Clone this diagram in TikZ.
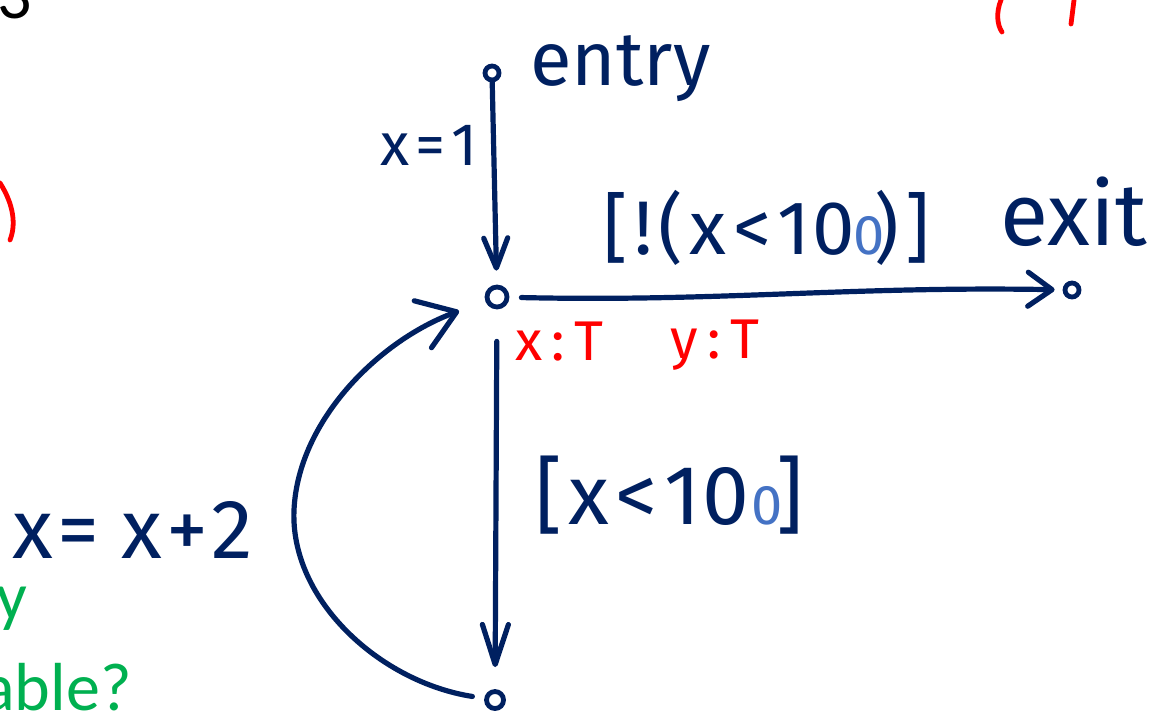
\documentclass[tikz,border=0pt]{standalone}
\usepackage{fontspec}
\setmainfont{Fira Sans}
\newfontfamily\printfont{Carlito}
\usetikzlibrary{arrows.meta}
\definecolor{ink}{RGB}{0,32,96}
\definecolor{inkblue}{RGB}{68,114,196}
\definecolor{inkred}{RGB}{255,0,0}
\definecolor{inkgreen}{RGB}{0,176,80}
\newcommand{\fsz}[1]{\fontsize{#1}{#1}\selectfont}
\newcommand{\gp}{\kern3.2pt}
\begin{document}
\begin{tikzpicture}[x=0.5pt,y=-0.5pt,
  dot/.style={circle,draw=ink,line width=2.4pt,minimum size=#1,inner sep=0pt},
  pen/.style={draw=ink,line width=2.6pt,line cap=round,line join=round},
  redpen/.style={draw=inkred,line width=2.4pt,line cap=round},
  lab/.style={inner sep=0pt,anchor=base west,text=ink},
  redlab/.style={inner sep=0pt,anchor=base west,text=inkred},
  greenlab/.style={inner sep=0pt,text=inkgreen,font=\printfont\fsz{34}}]
\useasboundingbox (0,0) rectangle (1159,717);
% nodes
\node[dot=7pt] (entry) at (492,73) {};
\node[dot=10pt] (mid) at (497,297) {};
\node[dot=7pt] (exit) at (1072,290) {};
\node[dot=8.5pt] (bot) at (495,700) {};
% connectors
\draw[pen,shorten >=7pt,-{Straight Barb[length=15pt,width=12pt,round]}] (entry) -- (mid);
\draw[pen,shorten <=6pt,shorten >=4pt,-{Straight Barb[length=12pt,width=17pt,round]}]
  (mid) .. controls (720,302) and (850,286) .. (exit);
\draw[pen,shorten <=16pt,shorten >=11pt,-{Straight Barb[length=20pt,width=13pt,round]}] (mid) -- (bot);
\draw[pen,shorten <=6pt,shorten >=14pt,-{Straight Barb[length=18pt,width=25pt,round]}]
  (bot) .. controls (380,682) and (290,600) .. (294,510)
        .. controls (298,420) and (380,340) .. (mid);
% labels
\node[lab,font=\fsz{38}] (tentry) at (530,85) {entry};
\node[lab,font=\fsz{44}] (texit) at (1000,245) {exit};
\node[lab,font=\fsz{38}] (g1) at (603,254) {[\gp!\gp(\gp x\gp<\gp 1\kern1pt0\kern-1pt\textcolor{inkblue}{\fsz{28}0}\kern-5pt)\gp]};
\node[lab,font=\fsz{42}] (g2) at (535,524) {[\gp x\gp<\gp 1\kern1pt0\kern1pt\textcolor{inkblue}{\fsz{28}0}\kern-3pt]};
\node[lab,font=\fsz{30}] (l1) at (380,165) {x\kern3pt=\kern3pt1};
\node[lab,font=\fsz{42}] (l2) at (12,558) {x\kern2pt= x\kern2pt+\kern2pt2};
\node[redlab,font=\fsz{28}] (rx) at (515,360) {x\,:\,T};
\node[redlab,font=\fsz{28}] (ry) at (670,358) {y\,:\,T};
\node[greenlab,anchor=base west] (gy) at (-4,619) {y};
\node[greenlab,anchor=base east] (gb) at (132,710) {able?};
\node[inner sep=0pt,anchor=base west,text=black,font=\printfont\fsz{34}] (n3) at (-3,19) {3};
% red marks
\draw[redpen] (0,183) .. controls (14,205) and (16,225) .. (10,240);
\draw[redpen] (1001,0) .. controls (996,12) and (997,25) .. (1002,32);
\draw[redpen] (1074,0) -- (1071,24);
\end{tikzpicture}
\end{document}
